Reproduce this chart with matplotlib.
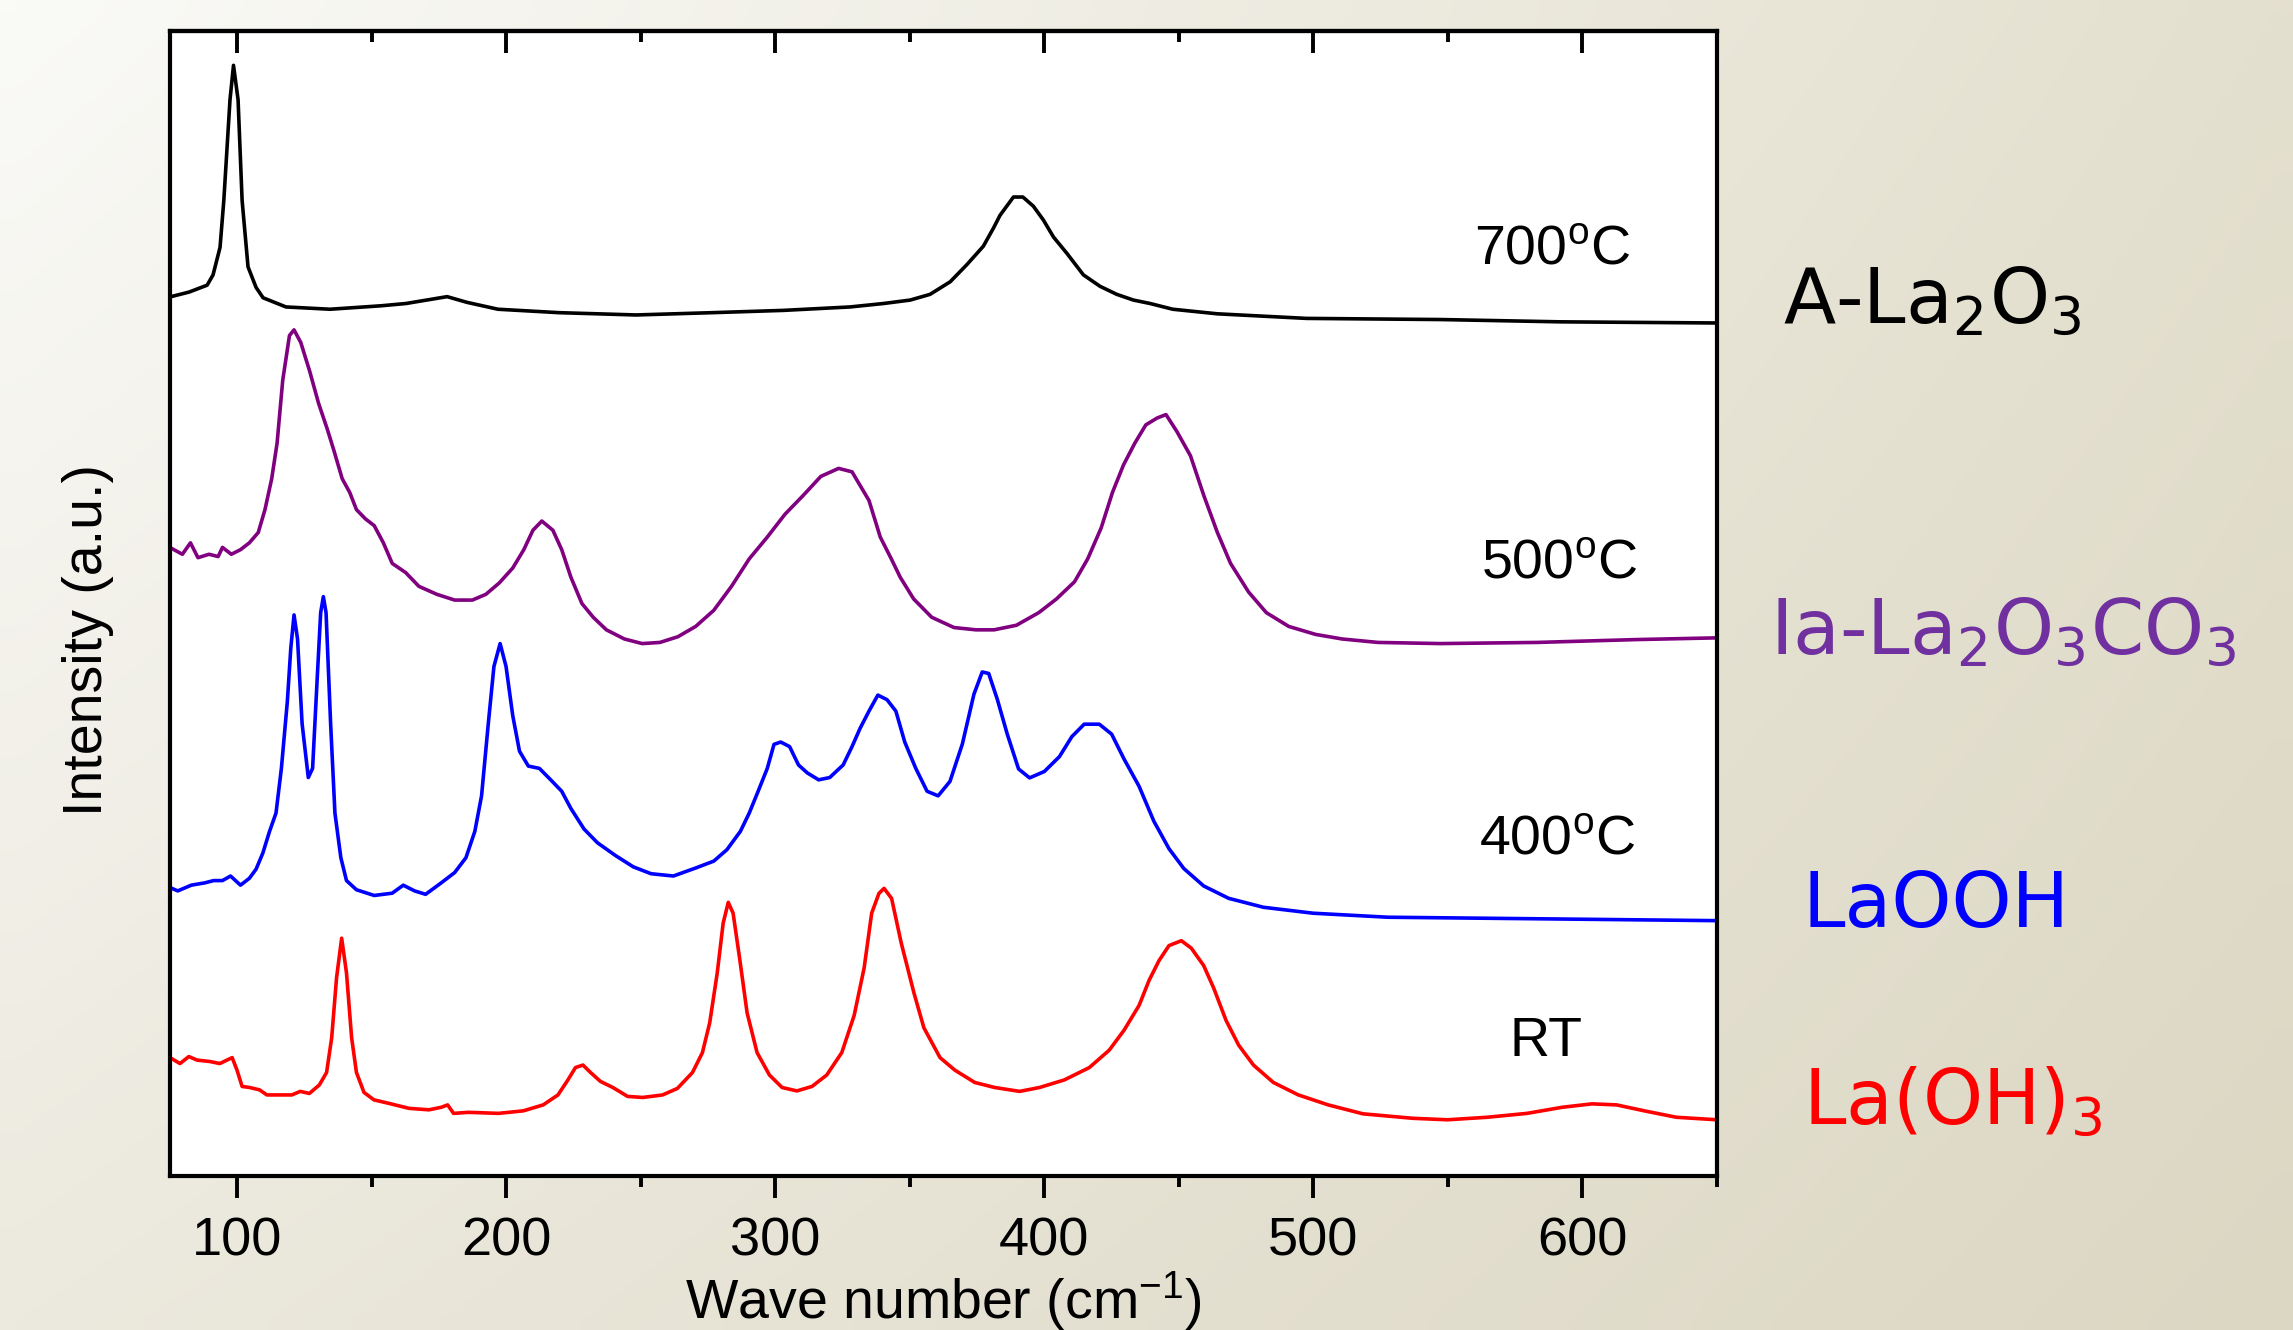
import numpy as np
import matplotlib
matplotlib.use("Agg")
import matplotlib.pyplot as plt
from matplotlib.ticker import MultipleLocator

plt.rcParams['font.family'] = ['Liberation Sans', 'DejaVu Sans']

# Raman spectra (wave number in cm-1, stacked intensity in a.u.)
wn_700 = [75.4, 82.1, 88.8, 91.0, 93.6, 95.0, 97.3, 98.6, 100.3, 101.8, 104.0, 107.0, 109.6,
          118.1, 134.5, 153.4, 162.7, 178.0, 185.4, 196.9, 219.6, 248.2, 276.5, 303.0, 327.8,
          340.2, 350.1, 357.5, 365.0, 371.2, 377.3, 381.1, 383.5, 386.0, 388.5, 392.0, 395.9,
          399.6, 403.4, 408.3, 414.5, 420.7, 426.9, 433.1, 439.3, 447.7, 464.3, 497.4, 547.2,
          591.7, 650.0]
int_700 = [76.8, 77.2, 77.8, 78.7, 81.1, 85.2, 94.0, 97.0, 94.0, 85.2, 79.4, 77.6, 76.7,
           75.9, 75.7, 76.0, 76.2, 76.8, 76.3, 75.7, 75.4, 75.2, 75.4, 75.6, 75.9,
           76.2, 76.5, 77.0, 78.1, 79.6, 81.2, 82.8, 83.9, 84.7, 85.5, 85.5, 84.7,
           83.5, 82.0, 80.6, 78.7, 77.7, 77.0, 76.5, 76.2, 75.7, 75.3, 74.9, 74.8,
           74.6, 74.5]

wn_500 = [74.9, 79.6, 82.6, 85.4, 89.5, 92.9, 94.5, 97.8, 101.2, 104.5, 107.8, 110.3, 112.8,
          114.8, 116.9, 119.4, 121.1, 123.6, 126.9, 130.2, 133.5, 136.0, 139.0, 141.8, 144.3,
          147.6, 150.9, 154.3, 157.6, 162.6, 167.5, 174.2, 180.8, 187.4, 192.4, 197.4, 202.4,
          206.5, 209.9, 213.2, 217.3, 220.6, 224.0, 228.1, 232.3, 237.2, 243.9, 250.5, 257.1,
          263.8, 270.4, 277.1, 283.7, 290.3, 297.0, 303.6, 310.2, 316.9, 323.5, 328.5, 334.8,
          339.0, 343.1, 346.4, 351.4, 358.1, 366.4, 374.6, 381.3, 389.6, 397.9, 404.5, 411.2,
          416.1, 421.1, 425.3, 429.4, 433.6, 437.7, 441.9, 445.2, 449.3, 454.3, 459.3, 464.3,
          469.2, 475.9, 482.5, 490.8, 500.8, 510.7, 524.0, 547.2, 583.1, 620.1, 650.0]
int_500 = [54.9, 54.3, 55.3, 54.0, 54.3, 54.1, 54.9, 54.3, 54.7, 55.3, 56.2, 58.2, 60.9,
           64.0, 69.5, 73.4, 73.9, 72.8, 70.3, 67.5, 65.2, 63.3, 60.9, 59.7, 58.2,
           57.4, 56.8, 55.3, 53.5, 52.7, 51.5, 50.8, 50.3, 50.3, 50.8, 51.8, 53.1,
           54.7, 56.4, 57.2, 56.4, 54.7, 52.3, 50.0, 48.8, 47.7, 46.9, 46.5, 46.6,
           47.1, 48.0, 49.4, 51.5, 53.9, 55.8, 57.8, 59.4, 61.1, 61.8, 61.5, 59.0,
           55.8, 53.9, 52.3, 50.4, 48.8, 47.9, 47.7, 47.7, 48.1, 49.2, 50.4, 51.9,
           53.9, 56.6, 59.7, 62.1, 64.0, 65.6, 66.2, 66.5, 65.0, 62.9, 59.4, 56.2,
           53.5, 51.0, 49.2, 48.0, 47.3, 46.9, 46.6, 46.5, 46.6, 46.85, 47.0]

wn_400 = [74.9, 77.9, 82.9, 87.9, 91.2, 94.5, 97.5, 101.2, 104.5, 107.0, 109.5, 112.0, 114.4,
          116.4, 118.6, 119.9, 121.1, 122.4, 124.1, 126.4, 128.0, 129.7, 131.0, 132.0, 133.0,
          134.7, 136.3, 138.5, 140.6, 144.3, 150.9, 157.6, 161.7, 165.9, 170.0, 175.8, 180.8,
          185.0, 188.3, 190.8, 193.3, 195.4, 197.7, 199.9, 202.4, 204.9, 208.2, 212.3, 216.5,
          220.6, 224.0, 228.9, 233.9, 240.5, 247.2, 253.8, 262.1, 270.4, 277.1, 282.0, 287.0,
          290.3, 293.6, 297.0, 299.5, 302.0, 305.3, 308.6, 311.9, 316.1, 320.2, 325.2, 328.5,
          331.5, 334.8, 338.1, 341.5, 344.8, 348.1, 352.2, 356.4, 360.5, 364.9, 369.5, 373.8,
          376.9, 379.3, 382.5, 386.2, 390.4, 394.5, 400.0, 405.6, 410.2, 414.8, 420.4, 425.0,
          429.6, 435.2, 440.7, 446.3, 451.8, 459.2, 468.5, 481.4, 499.9, 527.7, 564.6, 601.6,
          650.0]
int_400 = [25.2, 24.9, 25.4, 25.6, 25.8, 25.8, 26.2, 25.4, 26.0, 26.8, 28.2, 30.1, 31.7,
           35.6, 41.4, 46.1, 49.0, 46.9, 39.5, 34.8, 35.6, 43.4, 49.2, 50.6, 49.2,
           39.5, 31.7, 27.8, 25.8, 25.0, 24.5, 24.7, 25.4, 24.9, 24.6, 25.6, 26.5,
           27.8, 30.1, 33.2, 39.5, 44.5, 46.5, 44.5, 40.2, 37.1, 35.8, 35.6, 34.6,
           33.6, 32.1, 30.3, 29.1, 28.0, 27.0, 26.4, 26.2, 26.9, 27.5, 28.5, 30.1,
           31.7, 33.6, 35.6, 37.7, 37.9, 37.5, 35.9, 35.2, 34.6, 34.8, 35.9, 37.5,
           39.1, 40.6, 42.0, 41.6, 40.6, 37.9, 35.6, 33.6, 33.2, 34.46, 37.72, 42.07,
           44.02, 43.89, 41.63, 38.59, 35.55, 34.77, 35.33, 36.63, 38.37, 39.46, 39.46, 38.59,
           36.42, 34.03, 30.98, 28.59, 26.86, 25.33, 24.25, 23.47, 22.95, 22.6, 22.51, 22.42,
           22.3]

wn_rt = [75.0, 78.7, 82.0, 85.1, 89.8, 93.5, 98.1, 99.9, 101.8, 104.6, 108.3, 111.0, 115.7,
         120.3, 123.4, 126.8, 130.5, 133.2, 135.1, 136.9, 138.8, 140.6, 142.5, 144.3, 147.1,
         150.8, 156.4, 163.8, 171.2, 175.8, 178.2, 180.4, 186.0, 197.1, 206.3, 213.7, 219.2,
         222.9, 225.7, 228.5, 231.3, 235.0, 239.6, 245.1, 250.7, 258.1, 263.6, 269.2, 272.9,
         275.6, 278.4, 280.6, 282.5, 284.3, 286.7, 289.5, 293.2, 297.8, 302.5, 308.0, 313.6,
         319.1, 324.7, 329.3, 333.0, 335.8, 338.5, 340.4, 343.2, 346.8, 351.5, 355.2, 361.2,
         366.7, 374.1, 381.5, 390.8, 398.2, 407.4, 416.7, 424.1, 429.6, 435.2, 438.9, 442.6,
         446.3, 450.9, 454.6, 459.2, 462.9, 467.5, 472.2, 477.7, 485.1, 494.4, 505.5, 518.4,
         536.9, 549.8, 564.6, 579.4, 592.4, 603.5, 612.7, 623.8, 634.9, 650.0]
int_rt = [10.34, 9.82, 10.43, 10.12, 10.0, 9.82, 10.34, 9.25, 7.82, 7.73, 7.52, 7.08, 7.08,
          7.08, 7.39, 7.21, 7.95, 9.04, 12.08, 17.3, 20.77, 17.73, 12.08, 9.04, 7.3,
          6.65, 6.34, 5.91, 5.78, 6.0, 6.21, 5.47, 5.56, 5.47, 5.69, 6.21, 7.08,
          8.39, 9.47, 9.69, 9.04, 8.26, 7.73, 6.95, 6.86, 7.08, 7.65, 9.04, 10.78,
          13.38, 17.73, 22.08, 23.9, 22.95, 19.04, 14.25, 10.78, 8.82, 7.73, 7.43, 7.82,
          8.82, 10.78, 14.03, 18.17, 22.95, 24.68, 25.12, 24.25, 20.34, 16.0, 12.95, 10.34,
          9.25, 8.17, 7.73, 7.39, 7.73, 8.39, 9.47, 10.99, 12.73, 14.9, 17.08, 18.81,
          20.12, 20.55, 19.9, 18.38, 16.43, 13.6, 11.43, 9.69, 8.17, 7.08, 6.21, 5.43,
          5.04, 4.91, 5.13, 5.47, 6.0, 6.3, 6.21, 5.65, 5.13, 4.91]

temp_labels = ['700$\\mathregular{^o}$C', '500$\\mathregular{^o}$C', '400$\\mathregular{^o}$C', 'RT']
phase_labels = ['A-La$\\mathregular{_2}$O$\\mathregular{_3}$',
                'Ia-La$\\mathregular{_2}$O$\\mathregular{_3}$CO$\\mathregular{_3}$',
                'LaOOH',
                'La(OH)$\\mathregular{_3}$']
x_ticks = [100, 200, 300, 400, 500, 600]

line_colors = ['black', '#800080', '#0000ff', '#ff0000']
phase_colors = ['black', '#7030a0', '#0000ff', '#ff0000']

fig = plt.figure(figsize=(22.93, 13.30), dpi=100)

# beige gradient background
bg = fig.add_axes([0, 0, 1, 1], zorder=-1)
tl, tr = np.array([250, 250, 247]), np.array([228, 224, 207])
bl, br = np.array([236, 233, 222]), np.array([220, 215, 195])
u = np.linspace(0, 1, 64)[None, :, None]
v = np.linspace(0, 1, 64)[:, None, None]
grad = (tl * (1 - u) * (1 - v) + tr * u * (1 - v) + bl * (1 - u) * v + br * u * v) / 255
bg.imshow(grad, aspect='auto', interpolation='bilinear', extent=[0, 1, 1, 0])
bg.axis('off')

ax = fig.add_axes([0.07414, 0.11579, 0.67466, 0.86090])
ax.set_facecolor('white')

for wn, inten, c in zip([wn_700, wn_500, wn_400, wn_rt],
                        [int_700, int_500, int_400, int_rt], line_colors):
    ax.plot(wn, inten, color=c, lw=2.6)

ax.set_xlim(75, 650)
ax.set_ylim(0, 100)
ax.set_yticks([])
ax.set_xticks(x_ticks)
ax.xaxis.set_minor_locator(MultipleLocator(50))
ax.tick_params(axis='x', which='both', direction='out', width=2.8, pad=13,
               labelsize=39, top=False)
ax.tick_params(axis='x', which='major', length=16)
ax.tick_params(axis='x', which='minor', length=8)
for s in ax.spines.values():
    s.set_linewidth(3.0)

top = ax.secondary_xaxis('top')
top.set_xticks(x_ticks)
top.xaxis.set_minor_locator(MultipleLocator(50))
top.tick_params(axis='x', which='both', direction='in', width=2.8, labeltop=False)
top.tick_params(axis='x', which='major', length=16)
top.tick_params(axis='x', which='minor', length=8)
top.spines['top'].set_linewidth(3.0)

fig.text(0.4115, 0.0083, 'Wave number (cm$\\mathregular{^{-1}}$)', fontsize=40,
         ha='center', va='baseline')
fig.text(0.0384, 0.5188, 'Intensity (a.u.)', fontsize=40, rotation=90,
         ha='center', va='center')

# temperature annotations inside the plot
temp_pos = [(588.8, 79.6), (591.4, 52.2), (590.4, 28.1), (586.5, 10.5)]
for lab, (tx, ty) in zip(temp_labels, temp_pos):
    ax.text(tx, ty, lab, fontsize=40, ha='center', va='baseline')

# phase names to the right of the frame
phase_pos = [(0.7776, 0.7568), (0.7719, 0.5083), (0.7861, 0.3030), (0.7861, 0.1545)]
for lab, c, (px, py) in zip(phase_labels, phase_colors, phase_pos):
    fig.text(px, py, lab, fontsize=55, color=c, family='DejaVu Sans',
             ha='left', va='baseline')

fig.savefig('out.png', dpi=100)
